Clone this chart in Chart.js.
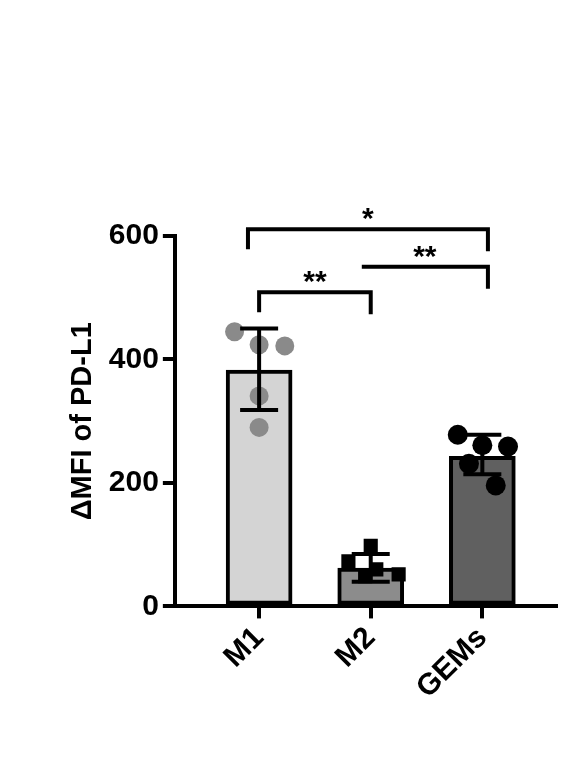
<!DOCTYPE html><html><head><style>body{margin:0;background:#fff}#w{width:574px;height:758px}</style>
<script src="https://cdn.jsdelivr.net/npm/chart.js"></script></head><body><div id="w"><canvas id="c"></canvas></div><script>
const categories=["M1","M2","GEMs"];
const means=[383,62,243];
const sdUpper=[450,85,278];
const sdLower=[318,40,214];
const m1Points=[445,424,422,341,290];
const m2Points=[98,73,60,52,49];
const gemsPoints=[278,261,259,231,196];
const jitter=[-0.22,0,0.23,0,0];
const jitterM2=[0,-0.2,0.05,0.25,-0.05];
const jitterG=[-0.22,0,0.23,-0.12,0.12];
const yTicks=[0,200,400,600];
const mk=(arr,i,j)=>arr.map((v,k)=>({x:i+1+j[k],y:v}));
const F="Liberation Sans, Arial, sans-serif";
const overlay={id:'ov',afterDatasetsDraw(ch){const c=ch.ctx,x=ch.scales.x,y=ch.scales.y;c.save();c.strokeStyle='#000';c.lineWidth=4;c.lineCap='butt';
for(let i=0;i<3;i++){const px=x.getPixelForValue(i+1);c.beginPath();c.moveTo(px,y.getPixelForValue(sdLower[i]));c.lineTo(px,y.getPixelForValue(sdUpper[i]));
[sdLower[i],sdUpper[i]].forEach(v=>{const py=y.getPixelForValue(v);c.moveTo(px-19,py);c.lineTo(px+19,py);});c.stroke();}
const br=(a,b,v,d1,d2,t)=>{const pa=x.getPixelForValue(a),pb=x.getPixelForValue(b),py=y.getPixelForValue(v);c.beginPath();c.moveTo(pa,py+d1);c.lineTo(pa,py);c.lineTo(pb,py);c.lineTo(pb,py+d2);c.stroke();
c.fillStyle='#000';c.font='bold 30px '+F;c.textAlign='center';c.textBaseline='bottom';c.fillText(t,(pa+pb)/2,py+6);};
br(0.9,3.05,611,20,22,'*');br(1,2,509,20,22,'**');br(1.92,3.05,550,0,22,'**');
c.restore();}};
new Chart(document.getElementById('c'),{data:{datasets:[
{type:'bar',data:means.map((v,i)=>({x:i+1,y:v})),backgroundColor:['#d4d4d4','#8c8c8c','#606060'],borderColor:'#000',borderWidth:4,borderSkipped:false,barThickness:66,order:3},
{type:'scatter',data:mk(m1Points,0,jitter),pointStyle:'circle',pointRadius:9.5,backgroundColor:'#8a8a8a',borderWidth:0,order:1},
{type:'scatter',data:mk(m2Points,1,jitterM2),pointStyle:'rect',pointRadius:10,backgroundColor:'#000',borderWidth:0,order:1},
{type:'scatter',data:mk(gemsPoints,2,jitterG),pointStyle:'circle',pointRadius:10,backgroundColor:'#000',borderWidth:0,order:1}]},
options:{responsive:true,maintainAspectRatio:false,animation:false,layout:{padding:{top:236,right:18,left:62,bottom:50}},
plugins:{legend:{display:false},tooltip:{enabled:false}},
scales:{x:{type:'linear',offset:false,bounds:'data',min:0.245,max:3.66,afterBuildTicks:s=>{s.ticks=[1,2,3].map(v=>({value:v}));},
ticks:{callback:v=>categories[v-1],minRotation:45,maxRotation:45,color:'#000',font:{family:F,size:30,weight:'bold'},padding:2},
grid:{drawOnChartArea:false,offset:false,color:'#000',lineWidth:4,tickLength:12},border:{color:'#000',width:4}},
y:{min:0,max:600,afterBuildTicks:s=>{s.ticks=yTicks.map(v=>({value:v}));},ticks:{color:'#000',font:{family:F,size:30,weight:'bold'},padding:4},
grid:{drawOnChartArea:false,color:'#000',lineWidth:4,tickLength:12},border:{color:'#000',width:4},
title:{display:true,text:'ΔMFI of PD-L1',color:'#000',font:{family:F,size:29,weight:'bold'}}}}},plugins:[overlay]});
</script></body></html>
